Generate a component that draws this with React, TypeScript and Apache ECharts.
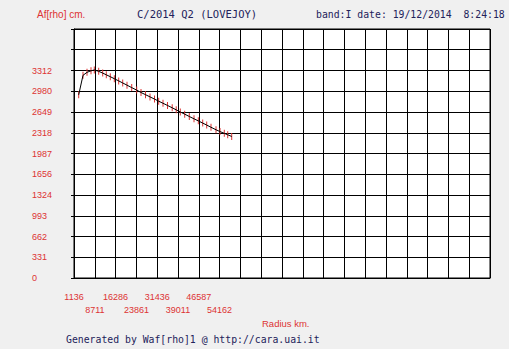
import React, { useEffect, useRef } from 'react';
import * as echarts from 'echarts';

// Radius (km) of each measured point
const radiusKm = [2848, 4414, 5871, 7327, 8529, 10132, 11589, 12900, 14356, 15813, 17416, 18873, 20439, 22151, 23971, 25537, 27176, 28815, 30454, 31982, 33550, 35189, 36900, 38357, 39850, 41453, 43128, 44840, 46406, 48009, 49465, 51031, 52852, 54309, 55875, 57113, 58570];
// Af[rho] (cm) at each radius
const afrhoCm = [2924, 3235, 3283, 3307, 3320, 3299, 3271, 3243, 3213, 3181, 3146, 3113, 3078, 3039, 2999, 2961, 2926, 2891, 2856, 2822, 2789, 2754, 2717, 2684, 2650, 2615, 2578, 2541, 2508, 2473, 2441, 2406, 2366, 2337, 2309, 2286, 2259];

// Axis tick labels
const xTickLabels = ['1136', '8711', '16286', '23861', '31436', '39011', '46587', '54162'];
const yTickLabels = ['0', '331', '662', '993', '1324', '1656', '1987', '2318', '2649', '2980', '3312', '', ''];

const X_ORIGIN = 1136;
const X_STEP = 7575;
const X_COLS = 20;
const Y_STEP = 331.2;
const Y_ROWS = 12;

const RED = '#dd3333';
const NAVY = '#22225a';

export default function App() {
  const ref = useRef<HTMLDivElement>(null);

  useEffect(() => {
    if (!ref.current) return;
    const chart = echarts.init(ref.current, undefined, { renderer: 'svg' });
    const pts = radiusKm.map((r, i) => [r - X_ORIGIN, afrhoCm[i]]);
    chart.setOption({
      animation: false,
      backgroundColor: '#f0f0f0',
      grid: {
        left: 74,
        top: 29,
        width: 416,
        height: 249,
        show: true,
        backgroundColor: '#ffffff',
        borderColor: '#000000',
        borderWidth: 1,
      },
      xAxis: {
        type: 'value',
        min: 0,
        max: X_STEP * X_COLS,
        interval: X_STEP,
        axisLine: { show: true, lineStyle: { color: '#000', width: 1 } },
        axisTick: { show: false },
        splitLine: { show: true, lineStyle: { color: '#000', width: 1 } },
        axisLabel: {
          interval: 0,
          showMinLabel: true,
          showMaxLabel: true,
          hideOverlap: false,
          margin: 13,
          color: RED,
          fontFamily: 'Liberation Sans, Arial, sans-serif',
          fontSize: 9,
          lineHeight: 12.5,
          formatter: (_v: number, index: number) => {
            const l = xTickLabels[index];
            if (l === undefined) return '';
            return index % 2 ? '\n' + l : l;
          },
        },
      },
      yAxis: {
        type: 'value',
        min: 0,
        max: Y_STEP * Y_ROWS,
        interval: Y_STEP,
        axisLine: { show: true, lineStyle: { color: '#000', width: 1 } },
        axisTick: { show: true, length: 3, lineStyle: { color: '#000', width: 1 } },
        splitLine: { show: true, lineStyle: { color: '#000', width: 1 } },
        axisLabel: {
          showMinLabel: true,
          showMaxLabel: true,
          align: 'left',
          margin: 42,
          color: RED,
          fontFamily: 'Liberation Sans, Arial, sans-serif',
          fontSize: 9,
          formatter: (_v: number, index: number) => yTickLabels[index] ?? '',
        },
      },
      series: [
        {
          type: 'scatter',
          data: pts,
          symbol: 'rect',
          symbolSize: [1, 7],
          itemStyle: { color: RED, opacity: 1 },
          silent: true,
          z: 2,
        },
        {
          type: 'line',
          data: pts,
          showSymbol: false,
          symbol: 'none',
          lineStyle: { color: '#000', width: 1 },
          silent: true,
          z: 3,
        },
      ],
      graphic: [
        {
          type: 'text',
          x: 37,
          y: 14,
          style: { text: 'Af[rho] cm.', fill: RED, font: '10px "Liberation Sans", Arial, sans-serif', verticalAlign: 'middle', align: 'left' },
        },
        {
          type: 'text',
          x: 137,
          y: 14,
          style: { text: 'C/2014 Q2 (LOVEJOY)', fill: NAVY, font: '10.5px "DejaVu Sans Mono", monospace', verticalAlign: 'middle', align: 'left' },
        },
        {
          type: 'text',
          x: 316,
          y: 14,
          style: { text: 'band:I date: 19/12/2014  8:24:18', fill: NAVY, font: '9.8px "DejaVu Sans Mono", monospace', verticalAlign: 'middle', align: 'left' },
        },
        {
          type: 'text',
          x: 262,
          y: 323,
          style: { text: 'Radius km.', fill: RED, font: '9.5px "Liberation Sans", Arial, sans-serif', verticalAlign: 'middle', align: 'left' },
        },
        {
          type: 'text',
          x: 66,
          y: 339,
          style: { text: 'Generated by Waf[rho]1 @ http://cara.uai.it', fill: NAVY, font: '9.8px "DejaVu Sans Mono", monospace', verticalAlign: 'middle', align: 'left' },
        },
      ],
    });
    return () => chart.dispose();
  }, []);

  return (
    <div
      ref={ref}
      style={{ position: 'fixed', left: 0, top: 0, width: 509, height: 349, background: '#f0f0f0' }}
    />
  );
}
